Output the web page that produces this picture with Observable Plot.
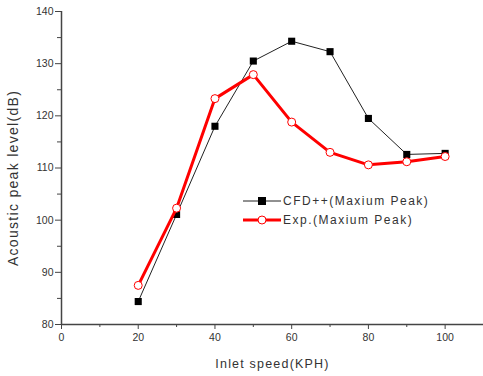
<!DOCTYPE html>
<html><head><meta charset="utf-8">
<script src="https://cdn.jsdelivr.net/npm/d3@7"></script>
<script src="https://cdn.jsdelivr.net/npm/@observablehq/plot@0.6"></script>
<style>
body{margin:0;background:#fff;font-family:"Liberation Sans",Arial,sans-serif;}
#wrap{position:relative;width:483px;height:376px;}
#legend{position:absolute;left:243px;top:191px;font-size:12px;letter-spacing:1.5px;color:#333;}
#legend div{display:flex;align-items:center;height:19px;white-space:nowrap;}
#legend svg{margin-right:2px;}
</style>
</head><body>
<div id="wrap"><div id="chart"></div><div id="legend"></div></div>
<script>
const speeds = [20, 30, 40, 50, 60, 70, 80, 90, 100];
const cfd = [84.4, 101.1, 118.0, 130.5, 134.3, 132.3, 119.5, 112.6, 112.8];
const exp = [87.5, 102.3, 123.3, 127.9, 118.8, 113.0, 110.6, 111.2, 112.2];
const seriesNames = ["CFD++(Maxium Peak)", "Exp.(Maxium Peak)"];
const xMajor = [0, 20, 40, 60, 80, 100];
const xMinor = [10, 30, 50, 70, 90, 110];
const yMajor = [80, 90, 100, 110, 120, 130, 140];
const yMinor = [85, 95, 105, 115, 125, 135];

const cfdData = speeds.map((s, i) => ({x: s, y: cfd[i]}));
const expData = speeds.map((s, i) => ({x: s, y: exp[i]}));
const axisColor = "#444";

const chart = Plot.plot({
  width: 483, height: 376,
  marginLeft: 61, marginTop: 11, marginBottom: 52, marginRight: 0,
  x: {domain: [0, 110]},
  y: {domain: [80, 140]},
  style: {fontFamily: "'Liberation Sans', Arial, sans-serif", color: "#333", background: "#fff"},
  marks: [
    Plot.axisX({ticks: xMajor, tickSize: 5, tickPadding: 4, fontSize: 10.5, label: null, stroke: axisColor}),
    Plot.axisX({ticks: xMinor, tickSize: 3, text: null, label: null, stroke: axisColor}),
    Plot.axisY({ticks: yMajor, tickSize: 6, tickPadding: 2, fontSize: 10.5, label: null, stroke: axisColor}),
    Plot.axisY({ticks: yMinor, tickSize: 4, text: null, label: null, stroke: axisColor}),
    Plot.ruleY([80], {stroke: axisColor, strokeWidth: 1.5}),
    Plot.ruleX([0], {stroke: axisColor, strokeWidth: 1.5}),
    Plot.text(["Inlet speed(KPH)"], {frameAnchor: "bottom", dy: 39, lineAnchor: "middle", textAnchor: "middle", fontSize: 12.5, fill: "#333"}),
    Plot.text(["Acoustic peak level(dB)"], {frameAnchor: "left", dx: -48, dy: 10, rotate: -90, textAnchor: "middle", lineAnchor: "middle", fontSize: 14, fill: "#333"}),
    Plot.line(cfdData, {x: "x", y: "y", stroke: "#222", strokeWidth: 1}),
    Plot.dot(cfdData, {x: "x", y: "y", symbol: "square", r: 4, fill: "#000", stroke: "none"}),
    Plot.line(expData, {x: "x", y: "y", stroke: "#f00", strokeWidth: 3}),
    Plot.dot(expData, {x: "x", y: "y", symbol: "circle", r: 4, fill: "#fff", stroke: "#f00", strokeWidth: 1})
  ]
});
chart.querySelectorAll('text').forEach(t => {
  if (t.textContent.startsWith("Inlet")) t.setAttribute("letter-spacing", "1.2px");
  if (t.textContent.startsWith("Acoustic")) t.setAttribute("letter-spacing", "1.3px");
});
document.getElementById("chart").appendChild(chart);

const lg = document.getElementById("legend");
lg.innerHTML =
  `<div><svg width="38" height="10"><line x1="0" y1="5" x2="38" y2="5" stroke="#222" stroke-width="1"/><rect x="15" y="1" width="8" height="8" fill="#000"/></svg>${seriesNames[0]}</div>` +
  `<div><svg width="38" height="10"><line x1="0" y1="5" x2="38" y2="5" stroke="#f00" stroke-width="3"/><circle cx="19" cy="5" r="4" fill="#fff" stroke="#f00"/></svg>${seriesNames[1]}</div>`;
</script>
</body></html>
